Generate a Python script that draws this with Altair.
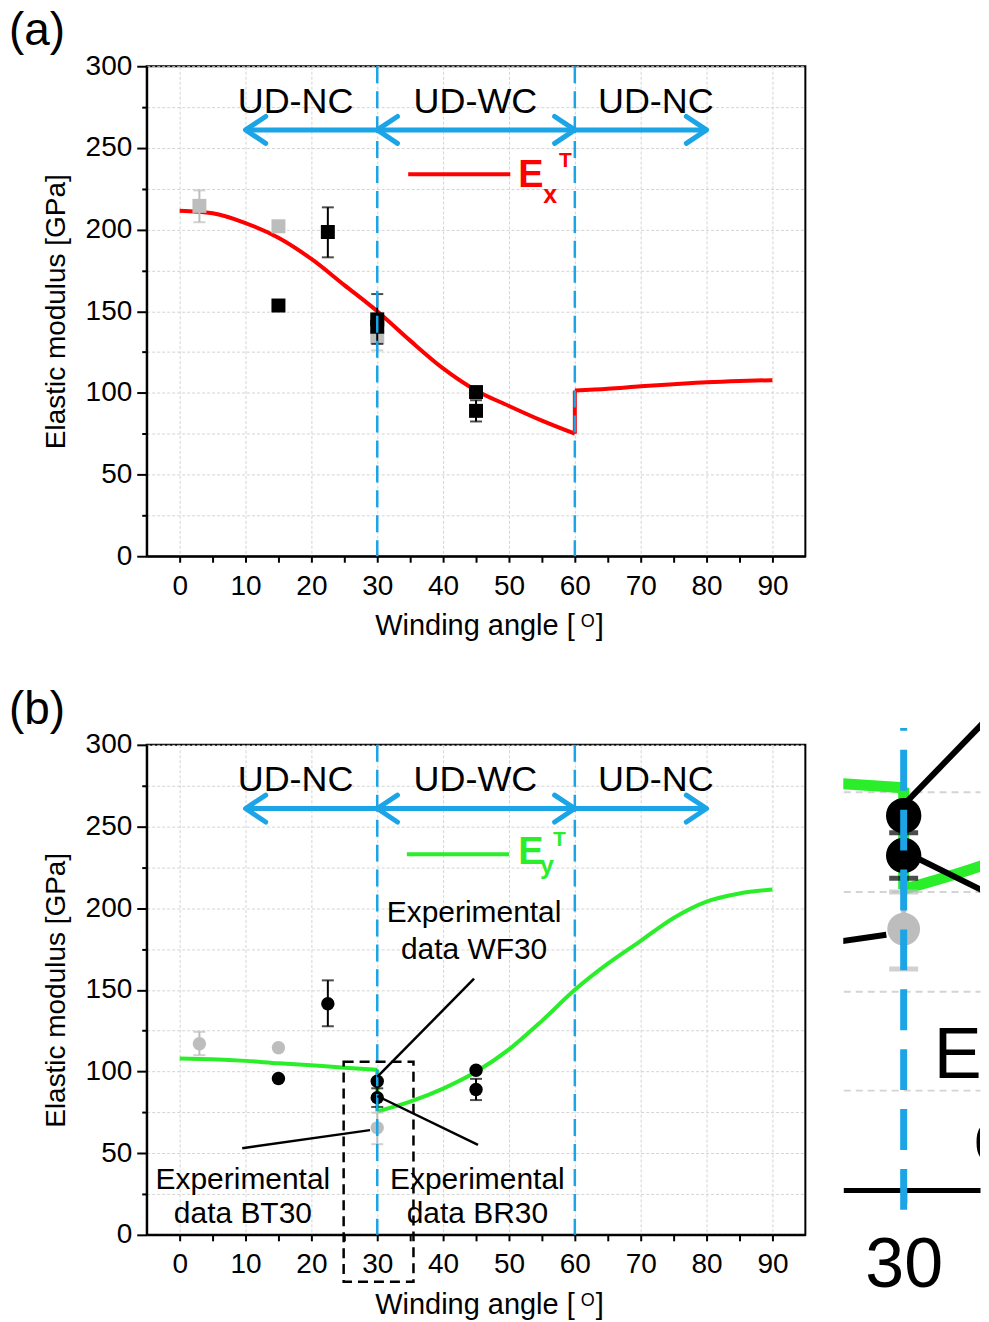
import altair as alt
import pandas as pd

FONT = "Liberation Sans"
BLUE = "#1BA4E6"
RED = "#FF0000"
GREEN = "#2BEE2B"
GREY = "#BDBDBD"
GRID = "#D4D4D4"

# ---------------- data ----------------
# (a) model curve E_x^T
ex_angle = [0, 5, 10, 15, 20, 25, 30, 35, 40, 45, 50, 55, 60, 60, 65, 70, 75, 80, 85, 90]
ex_modulus = [211.5, 210, 204, 195, 182, 166, 150, 132, 115, 101.5, 92, 83, 75,
              101.4, 102.5, 104, 105.3, 106.5, 107.3, 107.8]

# (b) model curve E_y^T
ey_angle = [0, 5, 10, 15, 20, 25, 30, 30, 35, 40, 45, 50, 55, 60, 65, 70, 75, 80, 85, 90]
ey_modulus = [108, 107.5, 106.5, 105, 103.8, 102.3, 101, 75.5, 81.5, 89.5, 99.8, 113.5,
              131, 150, 166, 180, 194, 204, 209, 211.4]

# (a) experimental squares
a_grey_angle = [3, 15, 30]
a_grey_mod = [214.5, 202, 134]
a_grey_err_angle = [3, 30]
a_grey_err_lo = [204.5, 126]
a_grey_err_hi = [224, 142]
a_black_angle = [15, 22.5, 30, 30, 45, 45]
a_black_mod = [153.5, 198.5, 145, 140.5, 100.5, 89]
a_black_err_angle = [22.5, 30, 45]
a_black_err_lo = [183, 130, 82.5]
a_black_err_hi = [213.6, 160.5, 95.5]

# (b) experimental circles
b_grey_angle = [3, 15, 30]
b_grey_mod = [117, 114.5, 65.5]
b_grey_err_angle = [3, 30]
b_grey_err_lo = [110, 55.5]
b_grey_err_hi = [124.3, 74.8]
b_black_angle = [15, 22.5, 30, 30, 45, 45]
b_black_mod = [95.7, 141.5, 94, 84, 100.8, 89]
b_black_err_angle = [22.5, 30, 45]
b_black_err_lo = [127.7, 78.3, 82.5]
b_black_err_hi = [155.8, 89.7, 95.5]

# regions / arrows
region_labels = ["UD-NC", "UD-WC", "UD-NC"]
region_angle = [17.6, 44.9, 72.3]
region_level = [271.5, 271.5, 271.5]
boundary_angles = [30, 60]
arrow_start = [10]
arrow_end = [80]
arrow_level = [261]
left_head_angle = [10, 30]
right_head_angle = [60, 80]

# (b) annotations
note_text = ["Experimental", "data WF30", "Experimental", "data BT30", "Experimental", "data BR30"]
note_angle = [44.7, 44.7, 9.6, 9.6, 45.2, 45.2]
note_level = [191.4, 169, 28.1, 7.3, 28.1, 7.3]
leader_x1 = [30, 30, 9.5]
leader_y1 = [96.7, 85, 53]
leader_x2 = [44.7, 45.3, 28.9]
leader_y2 = [156.8, 55, 64.1]
box_x1, box_x2, box_y1, box_y2 = [24.9], [35.5], [106], [-28.7]

# ---------------- scales & axes ----------------
W, H = 660, 491
XS = alt.Scale(domain=[-5, 95], nice=False, zero=False)
YS = alt.Scale(domain=[0, 300], nice=False, zero=False)

X_AXIS = alt.Axis(
    values=list(range(0, 91, 5)),
    labelExpr="datum.value % 10 === 0 ? datum.label : ''",
    labelFontSize=28, labelColor="black", labelPadding=10, labelFlush=False,
    tickSize=6, tickWidth=2, tickColor="black",
    domainColor="black", domainWidth=2,
    grid=True, gridColor=GRID, gridDash=[3, 2], gridWidth=1,
    gridOpacity={"condition": {"test": "datum.value % 10 === 0", "value": 1}, "value": 0},
    title=None)
Y_AXIS = alt.Axis(
    values=list(range(0, 301, 25)),
    labelExpr="datum.value % 50 === 0 ? datum.label : ''",
    labelFontSize=28, labelColor="black", labelPadding=5, labelFlush=False,
    tickSize={"condition": {"test": "datum.value % 50 === 0", "value": 10}, "value": 5},
    tickWidth=2, tickColor="black",
    domainColor="black", domainWidth=2,
    grid=True, gridColor=GRID, gridDash=[3, 2], gridWidth=1,
    title="Elastic modulus [GPa]", titleFontSize=28, titleFontWeight="normal",
    titleColor="black", titlePadding=15)

# magnified inset
IW, IH = 137, 1126
XSI = alt.Scale(domain=[26.17, 26.17 + IW / 15.8], nice=False, zero=False)
YSI = alt.Scale(domain=[0, IH / 3.99], nice=False, zero=False)
IX_AXIS = alt.Axis(values=[30, 35], labelExpr="datum.value === 30 ? '30' : ''",
                   labelFontSize=70, labelColor="black", labelPadding=29, labelFlush=False,
                   tickSize=13, tickWidth=5, tickColor="black",
                   domainColor="black", domainWidth=5, grid=False, title=None)
IY_AXIS = alt.Axis(values=[25, 50, 75, 100], labels=False, ticks=False, domain=False,
                   grid=True, gridColor=GRID, gridDash=[7, 5], gridWidth=2, title=None)

LEFT_HEAD = "M 1.5 -1 L 0 0 L 1.5 1"
RIGHT_HEAD = "M -1.5 -1 L 0 0 L -1.5 1"


def one():
    return alt.Chart(pd.DataFrame({"d": [0]}))


def curve_df(a, m):
    # split the curve where the angle repeats (a jump), keeping the jump as its own segment
    rows = []
    seg = 0
    for k in range(len(a)):
        if k > 0 and a[k] == a[k - 1]:
            rows.append((a[k - 1], m[k - 1], seg + 1, 0))
            rows.append((a[k], m[k], seg + 1, 1))
            seg += 2
        rows.append((a[k], m[k], seg, k))
    return pd.DataFrame(rows, columns=["a", "m", "seg", "i"])


def make_enc(xs, ys, xa, ya):
    def X(f):
        return alt.X(f, type="quantitative", scale=xs, axis=xa)

    def Y(f):
        return alt.Y(f, type="quantitative", scale=ys, axis=ya)
    return X, Y


def points_layers(enc, angle, mod, eang, elo, ehi, color, shape, size,
                  errw=2, capw=12, clip=False):
    X, Y = enc
    err = pd.DataFrame({"a": eang, "lo": elo, "hi": ehi})
    pts = pd.DataFrame({"a": angle, "m": mod})
    r = alt.Chart(err).mark_rule(color=color, strokeWidth=errw, clip=clip).encode(
        x=X("a"), y=Y("lo"), y2="hi:Q")
    c1 = alt.Chart(err).mark_tick(color=color, orient="horizontal", size=capw,
                                   thickness=errw, clip=clip).encode(x=X("a"), y=Y("lo"))
    c2 = alt.Chart(err).mark_tick(color=color, orient="horizontal", size=capw,
                                   thickness=errw, clip=clip).encode(x=X("a"), y=Y("hi"))
    p = alt.Chart(pts).mark_point(shape=shape, filled=True, size=size, color=color,
                                  opacity=1, clip=clip).encode(x=X("a"), y=Y("m"))
    return [r, c1, c2, p]


def annotations(enc, lw, fs, dash_box, clip, max_level):
    X, Y = enc
    out = []
    if dash_box:
        box = pd.DataFrame({"a": box_x1, "b": box_x2, "m": box_y1, "n": box_y2})
        out.append(alt.Chart(box).mark_rect(filled=False, stroke="black", strokeWidth=2.5,
                                            strokeDash=[10, 6]).encode(
            x=X("a"), x2="b:Q", y=Y("m"), y2="n:Q"))
    ld = pd.DataFrame({"a": leader_x1, "m": leader_y1, "b": leader_x2, "n": leader_y2})
    out.append(alt.Chart(ld).mark_rule(color="black", strokeWidth=lw, clip=clip).encode(
        x=X("a"), y=Y("m"), x2="b:Q", y2="n:Q"))
    nt = pd.DataFrame({"t": note_text, "a": note_angle, "m": note_level})
    nt = nt[nt.m < max_level]
    out.append(alt.Chart(nt).mark_text(fontSize=fs, color="black", baseline="alphabetic",
                                       clip=clip).encode(
        x=X("a"), y=Y("m"), text="t:N"))
    return out


MAIN = make_enc(XS, YS, X_AXIS, Y_AXIS)
INS = make_enc(XSI, YSI, IX_AXIS, IY_AXIS)


def curve_layer(enc, a, m, color, width, clip=False):
    X, Y = enc
    return alt.Chart(curve_df(a, m)).mark_line(
        color=color, strokeWidth=width, interpolate="monotone", clip=clip).encode(
        x=X("a"), y=Y("m"), detail="seg:N", order="i:Q")


def panel(c_angle, c_mod, color, sub, grey, black, shape, size, label, leg, extra):
    X, Y = MAIN
    layers = [curve_layer(MAIN, c_angle, c_mod, color, 4)]
    layers += points_layers(MAIN, *grey, GREY, shape, size)
    layers += points_layers(MAIN, *black, "black", shape, size)

    layers.append(alt.Chart(pd.DataFrame({"a": boundary_angles})).mark_rule(
        color=BLUE, strokeWidth=2.5, strokeDash=[17, 8]).encode(x=X("a")))

    arrow = pd.DataFrame({"a": arrow_start, "b": arrow_end, "m": arrow_level})
    layers.append(alt.Chart(arrow).mark_rule(color=BLUE, strokeWidth=5).encode(
        x=X("a"), x2="b:Q", y=Y("m")))
    for ang, path in ((left_head_angle, LEFT_HEAD), (right_head_angle, RIGHT_HEAD)):
        hd = pd.DataFrame({"a": ang, "m": arrow_level * len(ang)})
        layers.append(alt.Chart(hd).mark_point(
            shape=path, filled=False, size=729, color=BLUE, strokeWidth=5,
            strokeCap="round", strokeJoin="round", opacity=1).encode(x=X("a"), y=Y("m")))

    reg = pd.DataFrame({"t": region_labels, "a": region_angle, "m": region_level})
    layers.append(alt.Chart(reg).mark_text(fontSize=36, color="black", baseline="alphabetic").encode(
        x=X("a"), y=Y("m"), text="t:N"))

    # legend
    (lx1, lx2, ly), (ex, ey_), (sx, sy), (tx, ty) = leg
    layers.append(alt.Chart(pd.DataFrame({"a": [lx1], "b": [lx2], "m": [ly]})).mark_rule(
        color=color, strokeWidth=4).encode(x=X("a"), x2="b:Q", y=Y("m")))
    legt = pd.DataFrame({"t": ["E", sub, "T"], "a": [ex, sx, tx], "m": [ey_, sy, ty],
                         "s": [38, 25, 21]})
    for k in range(3):
        layers.append(alt.Chart(legt.iloc[[k]]).mark_text(
            align="left", baseline="alphabetic", fontWeight="bold", color=color,
            fontSize=int(legt.s[k])).encode(x=X("a"), y=Y("m"), text="t:N"))

    layers += extra

    # panel label and x title with superscript
    layers.append(one().mark_text(text=label, fontSize=46, align="left", baseline="alphabetic",
                                  color="black").encode(x=alt.value(-138), y=alt.value(-21)))
    layers.append(one().mark_text(text="Winding angle [", fontSize=29, align="left",
                                  baseline="alphabetic", color="black").encode(
        x=alt.value(229), y=alt.value(570)))
    layers.append(one().mark_text(text="]", fontSize=29, align="left",
                                  baseline="alphabetic", color="black").encode(
        x=alt.value(450), y=alt.value(570)))
    layers.append(one().mark_text(text="O", fontSize=18, align="center",
                                  baseline="alphabetic", color="black").encode(
        x=alt.value(442), y=alt.value(562)))

    return alt.layer(*layers).properties(
        width=W, height=H, view=alt.ViewBackground(stroke="black", strokeWidth=2))


grey_a = (a_grey_angle, a_grey_mod, a_grey_err_angle, a_grey_err_lo, a_grey_err_hi)
black_a = (a_black_angle, a_black_mod, a_black_err_angle, a_black_err_lo, a_black_err_hi)
grey_b = (b_grey_angle, b_grey_mod, b_grey_err_angle, b_grey_err_lo, b_grey_err_hi)
black_b = (b_black_angle, b_black_mod, b_black_err_angle, b_black_err_lo, b_black_err_hi)

pa = panel(ex_angle, ex_modulus, RED, "x", grey_a, black_a, "square", 196, "(a)",
           ((34.7, 50.2, 233.8), (51.4, 226.2), (55.2, 216.3), (57.6, 238.6)), [])

pb = panel(ey_angle, ey_modulus, GREEN, "y", grey_b, black_b, "circle", 180, "(b)",
           ((34.5, 50.0, 233.0), (51.4, 227.0), (54.7, 221.0), (56.7, 238.2)),
           annotations(MAIN, 2.5, 30, True, False, 1000))

# ---------------- inset ----------------
XI, YI = INS
ilayers = [curve_layer(INS, ey_angle, ey_modulus, GREEN, 11, clip=True)]
ilayers += points_layers(INS, *grey_b, GREY, "circle", 1075, errw=5, capw=29, clip=True)
ilayers += points_layers(INS, *black_b, "black", "circle", 1257, errw=5, capw=29, clip=True)
ilayers += annotations(INS, 6, 72, False, True, 116)
ilayers.append(alt.Chart(pd.DataFrame({"a": [30], "lo": [-5], "hi": [116]})).mark_rule(
    color=BLUE, strokeWidth=7, strokeDash=[41, 19]).encode(
    x=XI("a"), y=YI("lo"), y2="hi:Q"))

inset = alt.layer(*ilayers).properties(
    width=IW, height=IH, view=alt.ViewBackground(stroke="transparent"))

chart = alt.hconcat(alt.vconcat(pa, pb, spacing=44), inset, spacing=36).properties(
    padding={"left": 0, "right": 0, "top": -2, "bottom": 0}
).configure_axis(labelFont=FONT, titleFont=FONT).configure_text(font=FONT)

chart.save("out.html", embed_options={"renderer": "svg", "actions": False})
